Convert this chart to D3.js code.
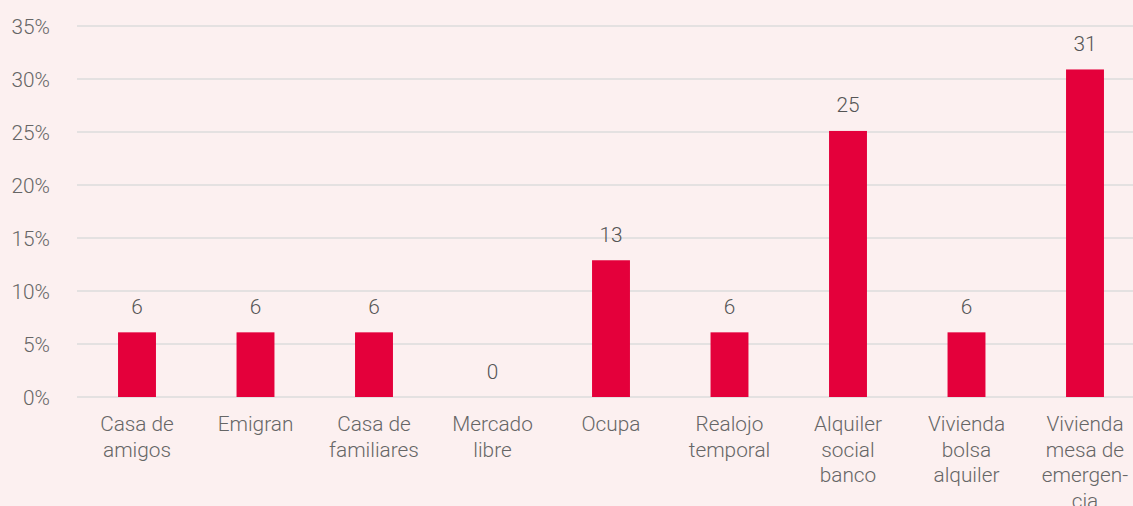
<!DOCTYPE html>
<html><head><meta charset="utf-8">
<script src="https://cdn.jsdelivr.net/npm/d3@7"></script>
<style>
html,body{margin:0;padding:0;background:#fcf0f0;}
svg{display:block;}
text{font-family:Roboto,sans-serif;font-weight:300;}
</style></head><body>
<svg id="c" width="1133" height="506"></svg>
<script>
const categories = [["Casa de","amigos"],["Emigran"],["Casa de","familiares"],["Mercado","libre"],["Ocupa"],["Realojo","temporal"],["Alquiler","social","banco"],["Vivienda","bolsa","alquiler"],["Vivienda","mesa de","emergen-","cia"]];
const values = [6.1, 6.1, 6.1, 0, 12.9, 6.1, 25.1, 6.1, 30.9];
const valueLabels = ["6","6","6","0","13","6","25","6","31"];
const yTicks = [0,5,10,15,20,25,30,35];

const svg = d3.select("#c");
const W = 1133, H = 506;
const x0 = 77.75, bandW = 118.5;
const FS = 20.8;
const x = d3.scaleBand().domain(d3.range(categories.length)).range([x0, x0 + bandW*categories.length]).paddingInner(0.68).paddingOuter(0.34);
const y = d3.scaleLinear().domain([0,35]).range([397,26]);

const yAxis = d3.axisLeft(y).tickValues(yTicks).tickFormat(d=>d+"%").tickSize(0).tickPadding(0);
const gy = svg.append("g").attr("transform","translate(50,0)").call(yAxis);
gy.select(".domain").remove();
gy.selectAll("text").attr("fill","#666").attr("font-size",FS).attr("dy","0.35em").style("font-family","Roboto").style("font-weight",300);

svg.append("g").selectAll("line").data(yTicks).join("line")
  .attr("x1",77).attr("x2",W).attr("y1",d=>y(d)).attr("y2",d=>y(d))
  .attr("stroke","#dcdcdc").attr("stroke-width",1.5);

svg.append("g").selectAll("rect").data(values).join("rect")
  .attr("x",(d,i)=>x(i)).attr("width",x.bandwidth())
  .attr("y",d=>y(d)).attr("height",d=>y(0)-y(d)).attr("fill","#e4003b");

svg.append("g").selectAll("text").data(values).join("text")
  .attr("x",(d,i)=>x(i)+x.bandwidth()/2).attr("y",d=>y(d)-18.5)
  .attr("text-anchor","middle").attr("font-size",FS).attr("fill","#555")
  .text((d,i)=>valueLabels[i]);

const xAxis = d3.axisBottom(x).tickSize(0).tickFormat("");
const gx = svg.append("g").attr("transform","translate(0,397)").call(xAxis);
gx.select(".domain").remove();
const lab = svg.append("g").selectAll("text").data(categories).join("text")
  .attr("x",(d,i)=>x(i)+x.bandwidth()/2).attr("y",431)
  .attr("text-anchor","middle").attr("font-size",FS).attr("fill","#666");
lab.selectAll("tspan").data(d=>d).join("tspan")
  .attr("x",function(){return this.parentNode.getAttribute("x");})
  .attr("dy",(d,i)=>i===0?0:25.5).text(d=>d);
</script></body></html>
